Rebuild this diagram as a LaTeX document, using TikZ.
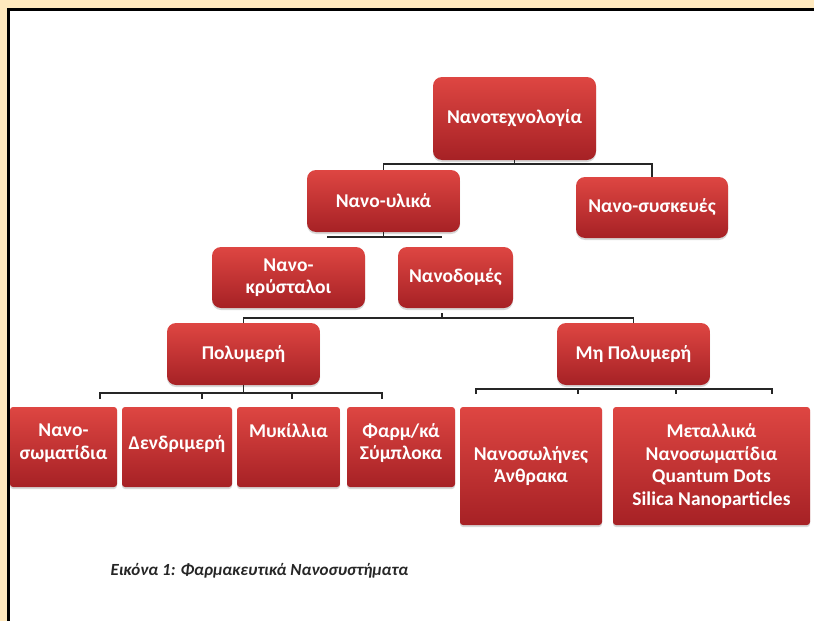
\documentclass[tikz,border=0pt]{standalone}
\usepackage{fontspec}
\setmainfont{Carlito}
\usetikzlibrary{shadows,calc}

\definecolor{cream}{RGB}{255,233,190}
\definecolor{redtop}{RGB}{222,70,66}
\definecolor{redbot}{RGB}{166,33,37}
\definecolor{linegray}{RGB}{38,38,38}

\tikzset{
  box/.style={rounded corners=9pt, top color=redtop, bottom color=redbot,
    draw=none, text=white, align=center, inner sep=0pt,
    font=\bfseries\fontsize{19.5}{22.5}\selectfont,
    drop shadow={opacity=0.3, shadow xshift=0pt, shadow yshift=-2pt}},
  leafbox/.style={box, rounded corners=3pt},
  conn/.style={draw=linegray, line width=1.8pt}
}

\begin{document}
\begin{tikzpicture}[x=1pt, y=-1pt]
  \useasboundingbox (0,0) rectangle (814,621);
  % page and frame
  \fill[cream] (0,0) rectangle (814,621);
  \fill[white] (9,10) rectangle (814,621);
  \draw[black, line width=3pt] (8.5,621) -- (8.5,9.5) -- (814,9.5);

  % level 0 and 1
  \node[box, minimum width=163, minimum height=83] (tech) at (514.5,118.5) {Νανοτεχνολογία};
  \node[box, minimum width=153, minimum height=62] (mat) at (383.5,201) {Νανο-υλικά};
  \node[box, minimum width=152, minimum height=61] (dev) at (652,207.5) {Νανο-συσκευές};

  % level 2
  \node[box, minimum width=153, minimum height=61] (cryst) at (288.5,277.5) {Νανο-\\κρύσταλοι};
  \node[box, minimum width=115, minimum height=61] (struct) at (455.5,277.5) {Νανοδομές};

  % level 3
  \node[box, minimum width=153, minimum height=62] (poly) at (243.5,354) {Πολυμερή};
  \node[box, minimum width=153, minimum height=62] (npoly) at (633.5,354) {Μη Πολυμερή};

  % leaves
  \node[leafbox, minimum width=107, minimum height=80] (nanop) at (63.5,447) {Νανο-\\σωματίδια\\[-12pt]\mbox{}};
  \node[leafbox, minimum width=110, minimum height=80] (dend) at (177,447) {Δενδριμερή\\[-14pt]\mbox{}};
  \node[leafbox, minimum width=103, minimum height=80] (mic) at (288.5,447) {Μυκίλλια\\\mbox{}\\[-12pt]\mbox{}};
  \node[leafbox, minimum width=108, minimum height=80] (drug) at (401,447) {Φαρμ/κά\\Σύμπλοκα\\[-12pt]\mbox{}};
  \node[leafbox, minimum width=142, minimum height=118] (tube) at (531,466) {Νανοσωλήνες\\Άνθρακα};
  \node[leafbox, minimum width=197, minimum height=118] (metal) at (711.5,466)
    {Μεταλλικά\\Νανοσωματίδια\\Quantum Dots\\Silica Nanoparticles};

  % connectors
  \coordinate (b1) at (514,164);
  \draw[conn] (tech.south) -- (tech.south |- b1);
  \draw[conn] (mat.north) |- (dev.north |- b1) -- (dev.north);

  \coordinate (b2l) at (327,237);
  \coordinate (b2r) at (442,237);
  \draw[conn] (mat.south) -- (mat.south |- b2l);
  \draw[conn] (b2l) -- (b2r);

  \coordinate (b3) at (442,318);
  \draw[conn] (poly.north) |- (npoly.north |- b3) -- (npoly.north);
  \draw[conn] (b3) -- ++(0,-5);

  \coordinate (b4) at (100,393);
  \draw[conn] (poly.south) -- (poly.south |- b4);
  \draw[conn] (b4) ++(0,6) |- (382,393) -- ++(0,6);
  \foreach \tx in {202,292}
    \draw[conn] (\tx,393) -- ++(0,6);

  \coordinate (b5) at (476,389);
  \draw[conn] (b5) ++(0,5) |- (772,389) -- ++(0,5);
  \foreach \tx in {578,676}
    \draw[conn] (\tx,389) -- ++(0,5);

  % caption
  \node[anchor=west, text=black!85, font=\bfseries\itshape\fontsize{17}{20}\selectfont]
    (cap) at (107,571) {Εικόνα 1: Φαρμακευτικά Νανοσυστήματα};
\end{tikzpicture}
\end{document}
